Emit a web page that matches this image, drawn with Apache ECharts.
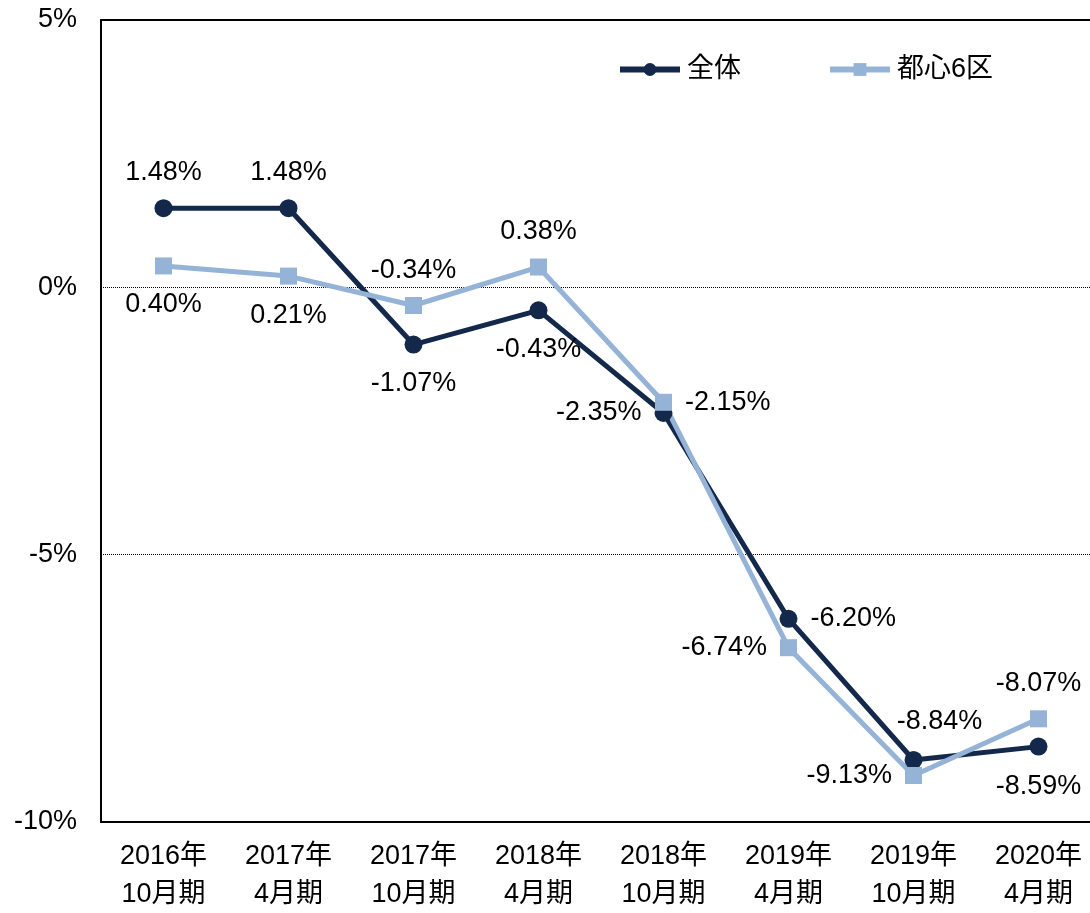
<!DOCTYPE html>
<html>
<head>
<meta charset="utf-8">
<script src="https://cdn.jsdelivr.net/npm/echarts@6/dist/echarts.min.js"></script>
<style>
    html,body{margin:0;padding:0;background:#fff;}
    #chart{width:1090px;height:913px;}
</style>
</head>
<body>
<div id="chart"></div>
<script>
    // 横軸カテゴリ
    var categories = ['2016年\n10月期','2017年\n4月期','2017年\n10月期','2018年\n4月期','2018年\n10月期','2019年\n4月期','2019年\n10月期','2020年\n4月期'];
    // 全体
    var allData = [1.48, 1.48, -1.07, -0.43, -2.35, -6.20, -8.84, -8.59];
    // 都心6区
    var centerData = [0.40, 0.21, -0.34, 0.38, -2.15, -6.74, -9.13, -8.07];
    var seriesNames = ['全体', '都心6区'];
    var colorList = ['#13284a', '#95b3d7'];
    // ラベル位置
    var allPos = ['top','top','bottom','bottom','left','right','top','bottom'];
    var centerPos = ['bottom','bottom','top','top','right','left','left','top'];

    var font = 'Liberation Sans, Arial, Noto Sans CJK JP, sans-serif';

    function buildData(vals, pos){
        var arr = [];
        for(var i=0;i<vals.length;i++){
            var item = {value: vals[i], label: {position: pos[i]}};
            if(pos[i] == 'bottom'){ item.label.distance = 17; }
            arr.push(item);
        }
        return arr;
    }

    var allItems = buildData(allData, allPos);
    allItems[6].label.offset = [26, -3];
    var centerItems = buildData(centerData, centerPos);

    var myChart = echarts.init(document.getElementById('chart'));
    var option = {
        animation: false,
        textStyle: {fontFamily: font},
        legend: {
            data: seriesNames,
            top: 51,
            left: 612,
            itemGap: 86,
            itemWidth: 60,
            itemHeight: 16,
            lineStyle: {width: 6},
            textStyle: {color: '#000', fontSize: 27, fontFamily: font, padding: [0, 0, 0, 2]}
        },
        grid: {left: 101, right: -11, top: 20, bottom: 91, outerBoundsMode: 'none', containLabel: false},
        xAxis: [{
            type: 'category',
            data: categories,
            axisLine: {onZero: false, lineStyle: {color: '#000', width: 2}},
            axisTick: {show: false},
            axisLabel: {color: '#000', fontSize: 27, lineHeight: 38, margin: 16, fontFamily: font}
        }, {
            type: 'category',
            position: 'top',
            data: categories,
            axisLine: {onZero: false, lineStyle: {color: '#000', width: 2}},
            axisTick: {show: false},
            axisLabel: {show: false}
        }],
        yAxis: {
            type: 'value',
            min: -10,
            max: 5,
            interval: 5,
            axisLine: {show: true, lineStyle: {color: '#000', width: 2}},
            axisTick: {show: false},
            axisLabel: {color: '#000', fontSize: 27, margin: 24, formatter: '{value}%', fontFamily: font},
            splitLine: {show: true, lineStyle: {color: '#000', type: 'dotted', width: 1}}
        },
        series: [{
            name: seriesNames[0],
            type: 'line',
            data: allItems,
            symbol: 'circle',
            symbolSize: 18,
            lineStyle: {color: colorList[0], width: 5},
            itemStyle: {color: colorList[0]},
            label: {show: true, color: '#000', fontSize: 27, distance: 13, fontFamily: font,
                formatter: function(p){ return p.value.toFixed(2) + '%'; }}
        }, {
            name: seriesNames[1],
            type: 'line',
            data: centerItems,
            symbol: 'rect',
            symbolSize: 17,
            lineStyle: {color: colorList[1], width: 5},
            itemStyle: {color: colorList[1]},
            label: {show: true, color: '#000', fontSize: 27, distance: 13, fontFamily: font,
                formatter: function(p){ return p.value.toFixed(2) + '%'; }}
        }]
    };
    myChart.setOption(option);
</script>
</body>
</html>
